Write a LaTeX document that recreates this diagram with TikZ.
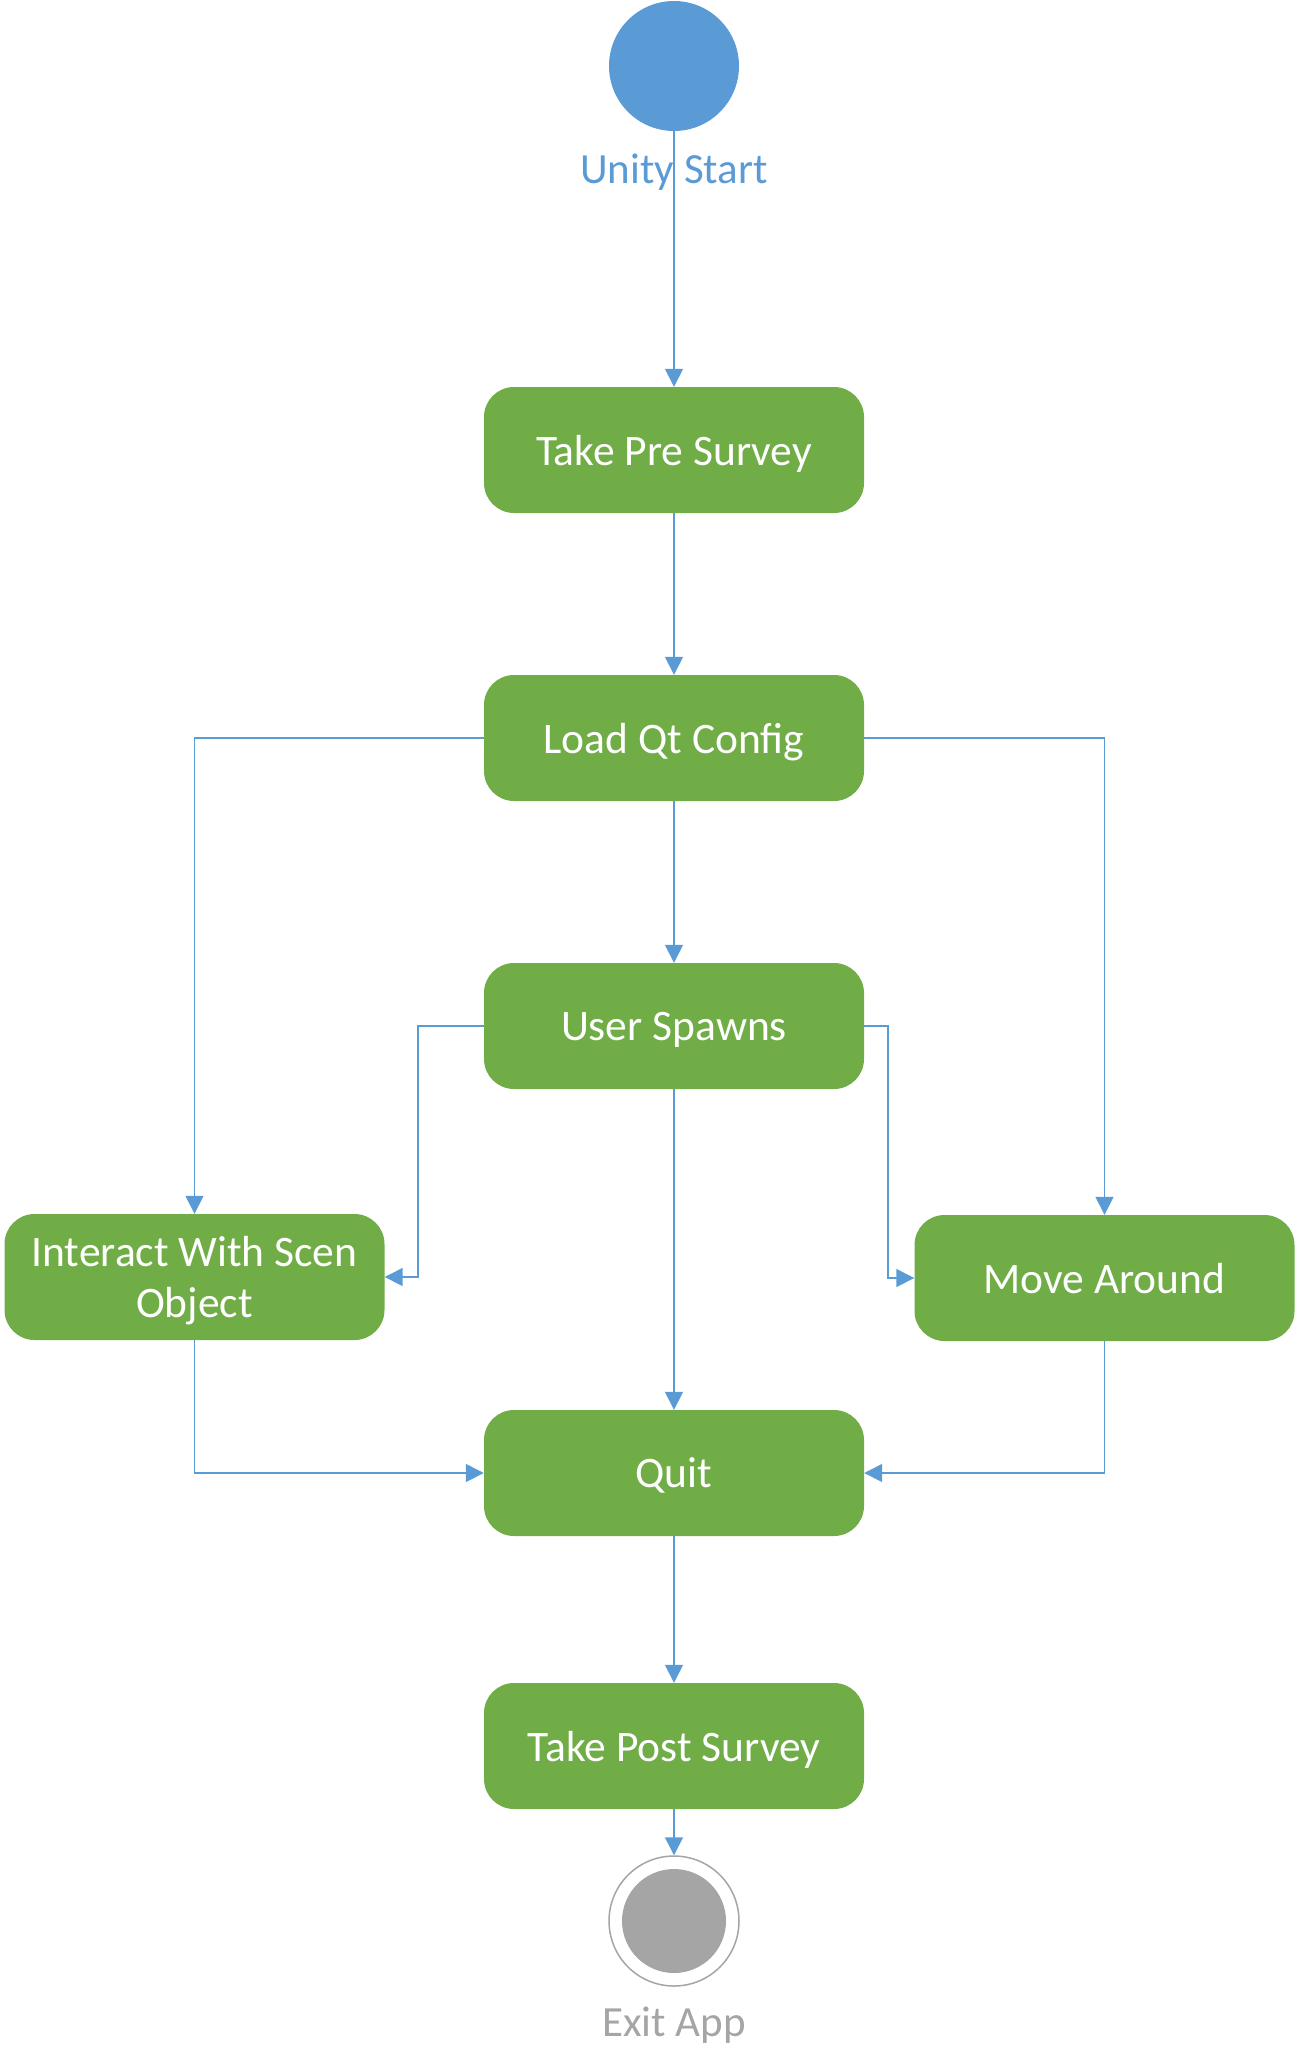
\documentclass[tikz,border=0pt]{standalone}
\usepackage{fontspec}
\setmainfont{Carlito}
\usetikzlibrary{arrows.meta}
\definecolor{ublue}{HTML}{5B9BD5}
\definecolor{ugreen}{HTML}{70AD47}
\definecolor{ugray}{HTML}{A5A5A5}
\begin{document}
\begin{tikzpicture}[x=1pt,y=-1pt,
  act/.style={fill=ugreen, rounded corners=30pt, minimum width=380pt, minimum height=126pt, text=white, font=\fontsize{43.5}{51}\selectfont, align=center, inner sep=0pt, text depth=0pt},
  lbl/.style={font=\fontsize{43}{51}\selectfont, anchor=base, inner sep=0pt},
  conn/.style={draw=ublue, line width=1.5pt, -{Triangle[length=18pt,width=18pt]}}
]
\useasboundingbox (0,0) rectangle (1299,2072);
\node[circle, fill=ublue, minimum size=130pt, inner sep=0pt] (start) at (674,66) {};
\node[lbl, text=ublue] (startlbl) at (674,183) {Unity Start};
\node[act] (pre) at (674,450) {Take Pre Survey};
\node[act] (load) at (674,738) {Load Qt Config};
\node[act] (spawn) at (674,1026) {User Spawns};
\node[act] (inter) at (194.5,1277) {Interact With Scen\\Object};
\node[act] (move) at (1104.5,1278) {Move Around};
\node[act] (quit) at (674,1473) {Quit};
\node[act] (post) at (674,1746) {Take Post Survey};
\node[circle, draw=ugray, line width=1.5pt, minimum size=130pt, inner sep=0pt] (exit) at (674,1921) {};
\node[circle, fill=ugray, minimum size=104pt, inner sep=0pt] (exitin) at (exit.center) {};
\node[lbl, text=ugray] (exitlbl) at (674,2036) {Exit App};
\coordinate (sl) at (418,1026);
\coordinate (sr) at (888,1026);
\draw[conn] (start) -- (pre);
\draw[conn] (pre) -- (load);
\draw[conn] (load) -- (spawn);
\draw[conn] (spawn) -- (quit);
\draw[conn] (quit) -- (post);
\draw[conn] (post) -- (exit);
\draw[conn] (load.west) -| (inter.north);
\draw[conn] (load.east) -| (move.north);
\draw[conn] (spawn.west) -- (sl) |- (inter.east);
\draw[conn] (spawn.east) -- (sr) |- (move.west);
\draw[conn] (inter.south) |- (quit.west);
\draw[conn] (move.south) |- (quit.east);
\end{tikzpicture}
\end{document}
